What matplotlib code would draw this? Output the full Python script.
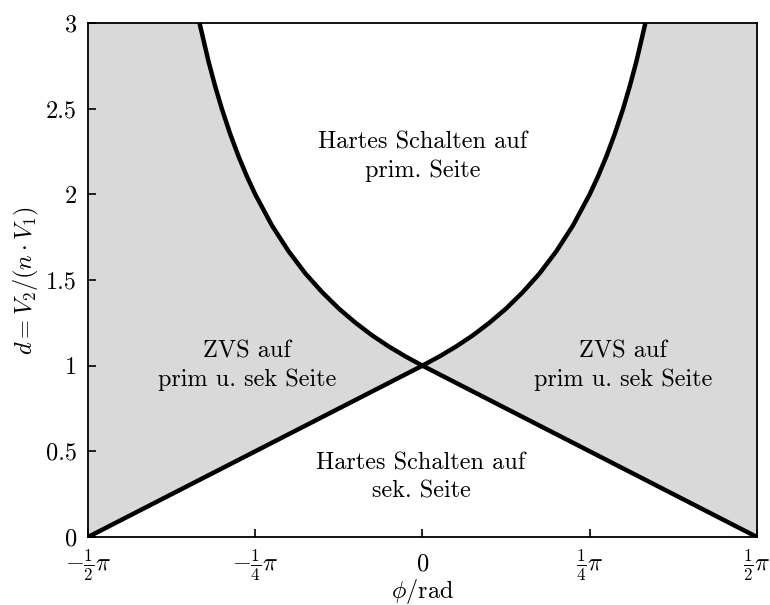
import matplotlib

matplotlib.use("Agg")

import matplotlib.pyplot as plt
import numpy as np


# Phasenwinkel in Vielfachen von pi (rechter Ast, symmetrisch)
phi_grenze = [0.0, 0.025, 0.05, 0.075, 0.1, 0.125, 0.15, 0.175, 0.2,
              0.225, 0.25, 0.2625, 0.275, 0.2875, 0.3, 0.31, 0.32, 0.3333]

# obere ZVS-Grenze (Hartes Schalten prim. Seite)
d_oben = [1.0, 1.053, 1.111, 1.176, 1.25, 1.333, 1.429, 1.538, 1.667,
          1.818, 2.0, 2.105, 2.222, 2.353, 2.5, 2.632, 2.778, 3.0]

# untere ZVS-Grenze (Hartes Schalten sek. Seite)
phi_gerade = [0.0, 0.5]
d_unten = [1.0, 0.0]

x_ticks = [-0.5, -0.25, 0.0, 0.25, 0.5]
x_tick_labels = [
    r"$-\frac{1}{2}\pi$",
    r"$-\frac{1}{4}\pi$",
    r"$0$",
    r"$\frac{1}{4}\pi$",
    r"$\frac{1}{2}\pi$",
]
y_ticks = [0, 0.5, 1, 1.5, 2, 2.5, 3]
y_tick_labels = ["0", "0.5", "1", "1.5", "2", "2.5", "3"]


plt.rcParams["font.family"] = "serif"
plt.rcParams["font.serif"] = ["cmr10"]
plt.rcParams["mathtext.fontset"] = "cm"
plt.rcParams["axes.formatter.use_mathtext"] = True
plt.rcParams["font.size"] = 17.5


phi_o = np.array(phi_grenze) * np.pi
d_o = np.array(d_oben)
phi_u = np.array(phi_gerade) * np.pi
d_u = np.array(d_unten)

x_min = -0.5 * np.pi
x_max = 0.5 * np.pi
y_max = 3.0


figure = plt.figure(figsize=(7.7, 6.05), dpi=100)
axis = figure.add_axes([0.1143, 0.1124, 0.8687, 0.8496])


# ========================================================
# GRAUE ZVS-BEREICHE
# ========================================================

# rechts: Gerade unten, Grenzkurve oben, Rand bei pi/2
x_rechts = np.concatenate([phi_u, [x_max], phi_o[::-1]])
y_rechts = np.concatenate([d_u, [y_max], d_o[::-1]])
axis.fill(x_rechts, y_rechts, color="#d9d9d9", lw=0, zorder=1)

# links: gespiegelt
axis.fill(-x_rechts, y_rechts, color="#d9d9d9", lw=0, zorder=1)


# ========================================================
# GRENZKURVEN
# ========================================================

for vorzeichen in (1, -1):

    axis.plot(vorzeichen * phi_o, d_o, color="black", lw=3.2,
              solid_capstyle="butt", solid_joinstyle="round", zorder=3)

    axis.plot(vorzeichen * phi_u, d_u, color="black", lw=3.2,
              solid_capstyle="butt", zorder=3)


# ========================================================
# BESCHRIFTUNG DER BEREICHE
# ========================================================

axis.text(0.0, 2.22, "Hartes Schalten auf\nprim. Seite",
          ha="center", va="center", linespacing=1.35)

axis.text(-0.002 * np.pi, 0.35, "Hartes Schalten auf\nsek. Seite",
          ha="center", va="center", linespacing=1.35)

axis.text(-0.262 * np.pi, 1.0, "ZVS auf\nprim u. sek Seite",
          ha="center", va="center", linespacing=1.35)

axis.text(0.30 * np.pi, 1.0, "ZVS auf\nprim u. sek Seite",
          ha="center", va="center", linespacing=1.35)


# ========================================================
# ACHSEN
# ========================================================

axis.set_xlim(x_min, x_max)
axis.set_ylim(0, y_max)

axis.tick_params(direction="in", length=6, width=1.2, top=False,
                 right=False, labelsize=17.5)
axis.tick_params(axis="x", pad=24)
axis.tick_params(axis="y", pad=8)

axis.set_xticks(np.array(x_ticks) * np.pi)
axis.set_xticklabels(x_tick_labels)
axis.set_yticks(y_ticks)
axis.set_yticklabels(y_tick_labels)

# Brueche und "0" auf gemeinsamer Grundlinie
for tick in axis.xaxis.get_major_ticks():
    tick.label1.set_verticalalignment("baseline")

for spine in axis.spines.values():
    spine.set_linewidth(1.3)
    spine.set_zorder(4)

axis.set_xlabel(r"$\phi/\mathrm{rad}$", va="center")
axis.xaxis.set_label_coords(0.5, -0.107)

axis.set_ylabel(r"$d = V_2/(n\cdot V_1)$", va="center")
axis.yaxis.set_label_coords(-0.092, 0.5)


figure.savefig("out.png", dpi=100)

plt.close(figure)
